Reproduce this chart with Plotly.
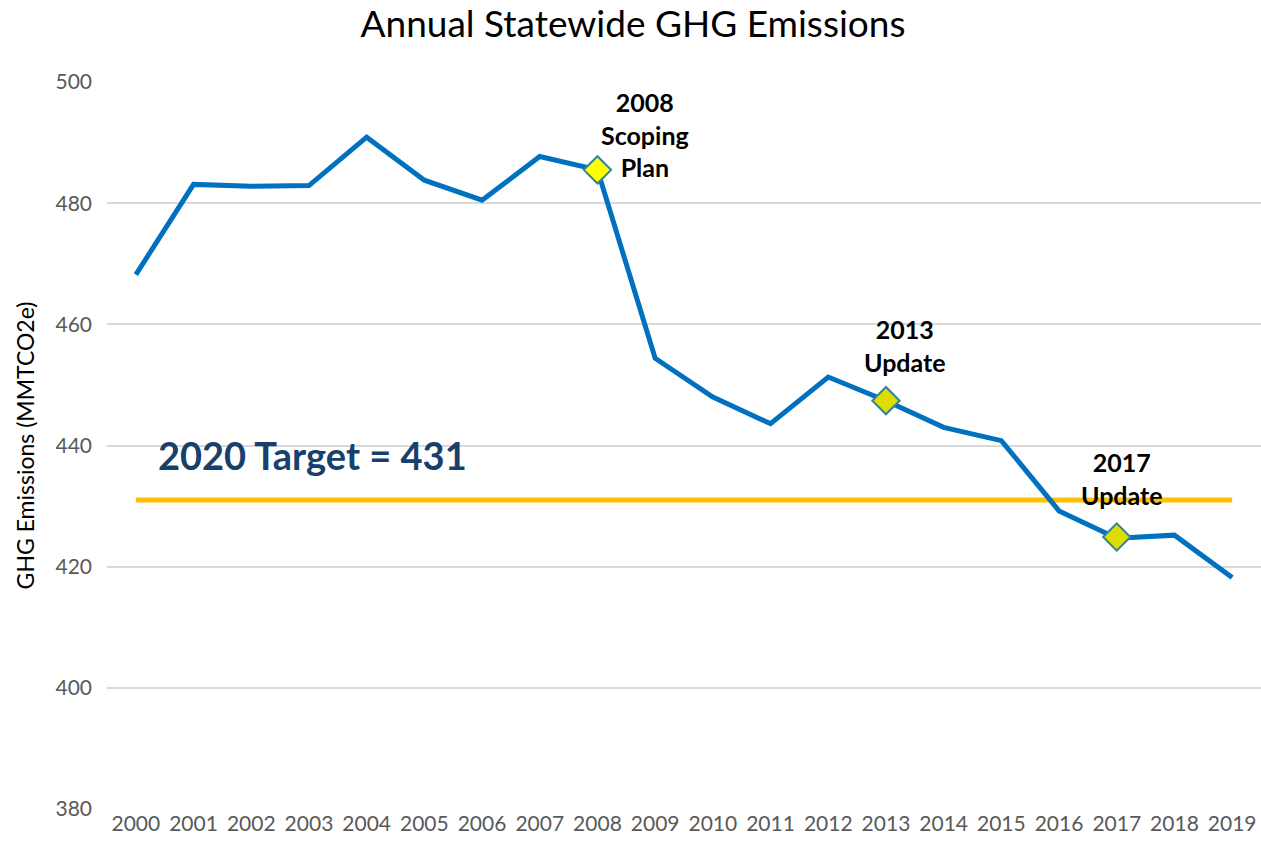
import plotly.graph_objects as go

years = [str(y) for y in range(2000, 2020)]
emissions = [468.2, 483.1, 482.8, 482.9, 490.9, 483.8, 480.5, 487.7, 485.5, 454.4,
             448.0, 443.6, 451.3, 447.4, 443.0, 440.8, 429.2, 424.7, 425.2, 418.2]
target_value = 431
target_label = "2020 Target = 431"
milestone_years = ["2008", "2013", "2017"]
milestone_values = [485.5, 447.4, 424.9]
milestone_labels = ["2008<br>Scoping<br>Plan", "2013<br>Update", "2017<br>Update"]
milestone_label_y = [491.3, 456.5, 434.5]
milestone_xshift = [48, 19, 5]
y_ticks = [380, 400, 420, 440, 460, 480, 500]

FONT = "Lato"

fig = go.Figure()
fig.add_trace(go.Scatter(
    x=years, y=[target_value] * len(years), mode="lines",
    line=dict(color="#FFC000", width=5), hoverinfo="skip", showlegend=False))
fig.add_trace(go.Scatter(
    x=years, y=emissions, mode="lines",
    line=dict(color="#0070C0", width=5), showlegend=False))
fig.add_trace(go.Scatter(
    x=milestone_years, y=milestone_values, mode="markers",
    marker=dict(symbol="diamond", size=21, color=["#FFFF00", "#DDDD00", "#DDDD00"],
                line=dict(color="#31849B", width=2)),
    showlegend=False))

for yr, lab, ly, xs in zip(milestone_years, milestone_labels, milestone_label_y, milestone_xshift):
    fig.add_annotation(x=years.index(yr), y=ly, text="<b>" + lab + "</b>", showarrow=False,
                       xshift=xs, font=dict(family=FONT, size=25, color="#000000"),
                       align="center")

fig.add_annotation(x=0, y=438.4, text="<b>" + target_label + "</b>", showarrow=False,
                   xanchor="left", xshift=20,
                   font=dict(family=FONT, size=38, color="#17406D"))

fig.update_layout(
    width=1261, height=850,
    margin=dict(l=107, r=0, t=82, b=41),
    paper_bgcolor="white", plot_bgcolor="white",
    title=dict(text="Annual Statewide GHG Emissions", x=0.502, xanchor="center",
               y=0.972, yanchor="middle",
               font=dict(family=FONT, size=37, color="#000000")),
    font=dict(family=FONT, color="#595959"),
)
fig.update_xaxes(type="category", range=[-0.5, 19.5], showgrid=False, showline=False,
                 ticks="", tickfont=dict(size=21, color="#595959"))
fig.update_yaxes(range=[380, 500], tickvals=y_ticks, showgrid=True, gridcolor="#D9D9D9",
                 gridwidth=2, zeroline=False, showline=False, ticks="", ticklabelstandoff=14,
                 tickfont=dict(size=21, color="#595959"),
                 title=dict(text="GHG Emissions (MMTCO2e)", standoff=14,
                            font=dict(size=23, color="#000000")))

fig.write_html("out.html", config={"displayModeBar": False},
               post_script="document.body.style.margin='0';document.body.style.overflow='hidden';")
